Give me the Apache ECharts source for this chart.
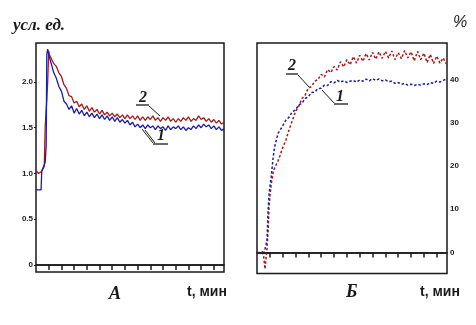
<!DOCTYPE html>
<html><head><meta charset="utf-8">
<script src="https://cdn.jsdelivr.net/npm/echarts@6/dist/echarts.min.js"></script>
<style>html,body{margin:0;padding:0;background:#fff}#c{width:476px;height:325px}</style>
</head><body><div id="c"></div>
<script>
// ---- Panel A (left): time, min
const tLeft = [0,0.2,0.4,0.45,0.55,0.65,0.72,0.8,0.85,0.92,1.0,1.05,1.12,
 1.2,1.4,1.6,1.8,2.0,2.2,2.4,2.6,2.8,3.0,3.2,3.4,3.6,3.8,4.0,4.2,4.4,4.6,4.8,5.0,
 5.2,5.4,5.6,5.8,6.0,6.2,6.4,6.6,6.8,7.0,7.2,7.4,7.6,7.8,8.0,8.2,8.4,8.6,8.8,9.0,
 9.2,9.4,9.6,9.8,10.0,10.2,10.4,10.6,10.8,11.0,11.2,11.4,11.6,11.8,12.0,12.2,12.4,12.6,12.8,13.0,
 13.2,13.4,13.6,13.8,14.0,14.2,14.4,14.6,14.8];
// curve 1 (blue), усл. ед.
const blueLeft = [0.82,0.82,0.82,1.02,1.06,1.08,1.12,1.3,2.3,2.36,2.3,2.27,2.24,
 2.22,2.10,2.04,1.95,1.90,1.79,1.76,1.70,1.74,1.66,1.71,1.65,1.69,1.63,1.67,1.62,1.66,1.61,1.65,1.60,
 1.64,1.59,1.63,1.58,1.62,1.57,1.61,1.56,1.59,1.55,1.58,1.53,1.56,1.51,1.54,1.50,1.53,1.49,1.53,1.50,
 1.52,1.48,1.52,1.49,1.51,1.47,1.52,1.48,1.51,1.49,1.52,1.48,1.51,1.47,1.50,1.48,1.52,1.49,1.53,1.50,
 1.54,1.51,1.53,1.49,1.52,1.48,1.51,1.47,1.49];
// curve 2 (red)
const redLeft = [1.03,1.00,1.02,1.04,1.05,1.08,1.5,1.7,1.8,2.0,2.34,2.3,2.32,
 2.28,2.20,2.17,2.10,2.06,1.97,1.93,1.85,1.84,1.77,1.79,1.73,1.76,1.70,1.74,1.68,1.72,1.67,1.70,1.65,
 1.69,1.64,1.67,1.63,1.66,1.62,1.65,1.61,1.64,1.60,1.64,1.60,1.63,1.59,1.63,1.58,1.62,1.58,1.62,1.59,
 1.63,1.58,1.61,1.57,1.61,1.58,1.62,1.57,1.60,1.56,1.60,1.57,1.61,1.58,1.62,1.57,1.60,1.58,1.63,1.59,
 1.61,1.57,1.60,1.56,1.59,1.55,1.58,1.54,1.56];

// ---- Panel Б (right): %
const tRight = [0,0.25,0.4,0.5,0.62,0.7,0.78,0.86,0.94,1.02,1.12,1.24,1.36,1.5,1.65,1.8,2.0,
 2.25,2.5,2.75,3.0,3.25,3.5,3.75,4.0,4.25,4.5,4.75,5.0,5.25,5.5,5.75,6.0,6.25,6.5,6.75,7.0,
 7.25,7.5,7.75,8.0,8.25,8.5,8.75,9.0,9.25,9.5,9.75,10.0,10.25,10.5,10.75,11.0,11.25,11.5,11.75,12.0,
 12.25,12.5,12.75,13.0,13.25,13.5,13.75,14.0,14.25,14.5,14.75];
const blueRight = [null,null,0.3,-0.5,0.8,1.8,3.0,9.5,13.5,15.5,17.8,21.5,24.2,26.0,27.6,28.3,29.3,
 30.6,31.3,32.5,33.0,34.1,34.5,35.6,36.0,37.0,37.1,37.9,38.0,38.7,38.6,39.5,39.2,39.8,39.4,39.7,39.3,
 39.6,39.8,39.4,39.9,39.6,40.1,39.7,40.2,39.8,40.1,39.7,39.9,39.5,39.6,39.1,39.3,38.9,39.1,38.7,38.9,
 38.6,38.9,38.7,39.0,38.8,39.3,39.1,39.6,39.4,39.8,40.1];
const redRight = [0,0,0,-0.3,-3.8,-1.5,1.0,4.8,10.5,13.5,16.0,18.2,19.5,20.3,21.3,22.5,24.2,
 26.0,28.4,30.5,32.6,33.8,35.6,36.4,38.0,38.4,39.6,40.0,41.2,40.6,42.3,41.6,43.0,42.2,44.1,42.9,44.6,
 43.4,45.3,43.8,45.6,44.2,46.0,44.5,46.3,44.7,46.4,44.9,46.5,45.0,46.6,44.6,46.2,44.8,46.7,45.0,46.4,
 44.3,46.5,44.6,46.1,43.9,45.8,43.7,45.4,43.8,45.0,43.6];

const ticksX = [1,2,3,4,5,6,7,8,9,10,11,12,13,14];
const ticksLeftY = [0,0.5,1,1.5,2];
const ticksRightY = [0,10,20,30,40];

const BLUE = '#1c1ca0', RED = '#a01c1c', INK = '#1a1a1a';
const zip = (t, v) => t.map((x, i) => [x, v[i]]);

const chart = echarts.init(document.getElementById('c'), null, {renderer: 'canvas'});
const xCommon = {
  type: 'value', min: 0, max: 14.8,
  axisLine: {show: true, lineStyle: {color: INK, width: 1.5}},
  axisTick: {show: true, customValues: ticksX, length: 5, lineStyle: {color: INK, width: 1.5}},
  axisLabel: {show: false}, splitLine: {show: false}
};
const zeroLine = {silent: true, symbol: 'none', label: {show: false},
  lineStyle: {color: INK, width: 1.5, type: 'solid'}, data: [{yAxis: 0}]};
const labStyle = {fontFamily: 'Liberation Sans', fontSize: 8, fontWeight: 'bold', color: INK};

chart.setOption({
  animation: false,
  backgroundColor: '#fff',
  grid: [
    {left: 36, top: 43, width: 188, height: 229, show: true, borderColor: INK, borderWidth: 1.5, backgroundColor: '#fff'},
    {left: 257, top: 43, width: 190, height: 230.5, show: true, borderColor: INK, borderWidth: 1.5, backgroundColor: '#fff'}
  ],
  xAxis: [Object.assign({gridIndex: 0}, xCommon), Object.assign({gridIndex: 1}, xCommon)],
  yAxis: [
    {gridIndex: 0, type: 'value', min: -0.0765, max: 2.426,
     axisLine: {show: false}, splitLine: {show: false},
     axisTick: {show: true, customValues: ticksLeftY, length: 2, lineStyle: {color: INK}},
     axisLabel: Object.assign({customValues: ticksLeftY, margin: 3,
       formatter: v => v === 0 ? '0' : v.toFixed(1)}, labStyle)},
    {gridIndex: 1, type: 'value', position: 'right', min: -4.86, max: 48.44,
     axisLine: {show: false}, splitLine: {show: false},
     axisTick: {show: false},
     axisLabel: Object.assign({customValues: ticksRightY, margin: 3}, labStyle)}
  ],
  series: [
    {type: 'line', xAxisIndex: 0, yAxisIndex: 0, data: zip(tLeft, redLeft), showSymbol: false,
     lineStyle: {color: RED, width: 1.3}, z: 3},
    {type: 'line', xAxisIndex: 0, yAxisIndex: 0, data: zip(tLeft, blueLeft), showSymbol: false,
     lineStyle: {color: BLUE, width: 1.3}, z: 4, markLine: zeroLine},
    {type: 'line', xAxisIndex: 1, yAxisIndex: 1, data: zip(tRight, redRight), showSymbol: false,
     lineStyle: {color: RED, width: 1.5, type: [2.5, 2]}, z: 3},
    {type: 'line', xAxisIndex: 1, yAxisIndex: 1, data: zip(tRight, blueRight), showSymbol: false,
     lineStyle: {color: BLUE, width: 1.5, type: [2.5, 2]}, z: 4, markLine: zeroLine}
  ],
  graphic: [
    {type: 'text', left: 13, top: 17, style: {text: 'усл. ед.', font: 'italic bold 17px "Liberation Serif"', fill: INK}},
    {type: 'text', left: 453, top: 15, style: {text: '%', font: 'italic 16px "Liberation Sans"', fill: INK}},
    {type: 'text', left: 109, top: 285, style: {text: 'А', font: 'italic bold 18px "Liberation Serif"', fill: INK}},
    {type: 'text', left: 187, top: 285, style: {text: 't, мин', font: 'bold 14px "Liberation Sans"', fill: INK}},
    {type: 'text', left: 346, top: 283, style: {text: 'Б', font: 'italic bold 18px "Liberation Serif"', fill: INK}},
    {type: 'text', left: 420, top: 285, style: {text: 't, мин', font: 'bold 14px "Liberation Sans"', fill: INK}},
    // annotations panel A
    {type: 'text', left: 139, top: 90, style: {text: '2', font: 'italic bold 16px "Liberation Serif"', fill: INK}},
    {type: 'line', shape: {x1: 136, y1: 105, x2: 149, y2: 105}, style: {stroke: INK, lineWidth: 1.3}},
    {type: 'line', shape: {x1: 149, y1: 106, x2: 160, y2: 116}, style: {stroke: INK, lineWidth: 1}},
    {type: 'text', left: 157, top: 128, style: {text: '1', font: 'italic bold 16px "Liberation Serif"', fill: INK}},
    {type: 'line', shape: {x1: 153, y1: 144, x2: 168, y2: 144}, style: {stroke: INK, lineWidth: 1.3}},
    {type: 'line', shape: {x1: 153, y1: 143, x2: 142, y2: 129}, style: {stroke: INK, lineWidth: 1}},
    {type: 'line', shape: {x1: 155, y1: 143, x2: 145, y2: 130}, style: {stroke: INK, lineWidth: 1}},
    // annotations panel Б
    {type: 'text', left: 288, top: 58, style: {text: '2', font: 'italic bold 16px "Liberation Serif"', fill: INK}},
    {type: 'line', shape: {x1: 286, y1: 74, x2: 298, y2: 74}, style: {stroke: INK, lineWidth: 1.3}},
    {type: 'line', shape: {x1: 298, y1: 75, x2: 310, y2: 88}, style: {stroke: INK, lineWidth: 1}},
    {type: 'text', left: 336, top: 89, style: {text: '1', font: 'italic bold 16px "Liberation Serif"', fill: INK}},
    {type: 'line', shape: {x1: 334, y1: 104, x2: 348, y2: 104}, style: {stroke: INK, lineWidth: 1.3}},
    {type: 'line', shape: {x1: 334, y1: 103, x2: 322, y2: 90}, style: {stroke: INK, lineWidth: 1}}
  ]
});
</script></body></html>
